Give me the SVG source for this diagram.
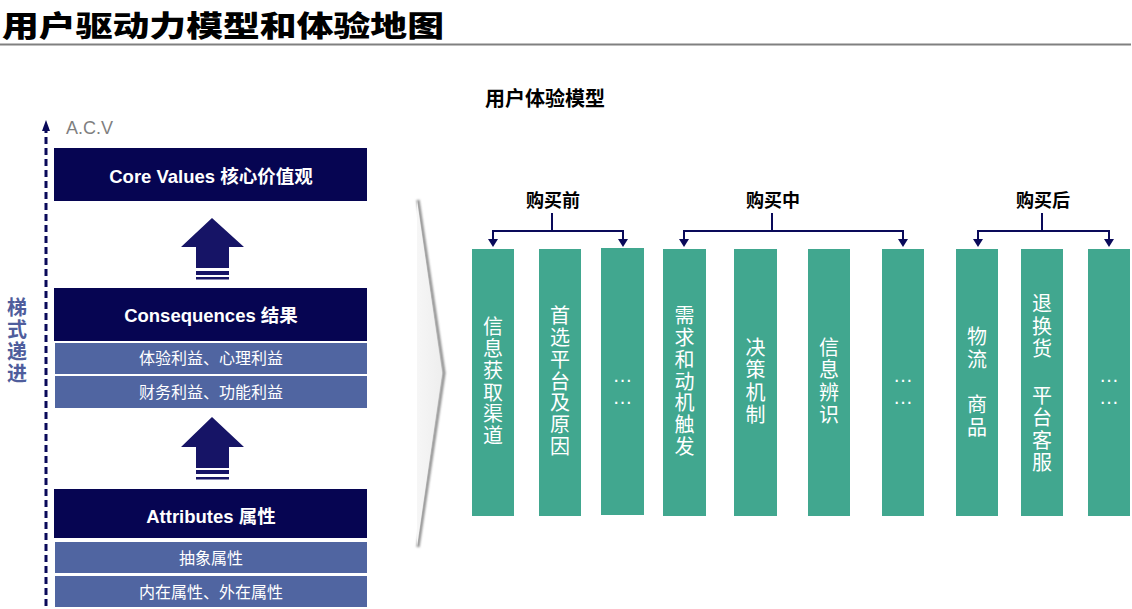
<svg xmlns="http://www.w3.org/2000/svg" width="1132" height="609" viewBox="0 0 1132 609">
<style>
.cjk{font-family:"Liberation Sans","Noto Sans CJK SC",sans-serif}
.title{font-weight:900;font-size:29px;fill:#000}
.hd{font-weight:bold;font-size:18px;fill:#000;text-anchor:middle}
.bt{font-weight:bold;font-size:18.5px;fill:#fff;text-anchor:middle}
.st{font-size:16px;fill:#fff;text-anchor:middle}
.vt{font-size:20px;fill:#fff;text-anchor:middle;dominant-baseline:central}
.dots{font-size:20px;fill:#fff;text-anchor:middle}
.main{fill:#060552}
.sub{fill:#5065a1}
.bar{fill:#41a78f}
.arr{fill:#161466}
.br{fill:none;stroke:#0a0a5a;stroke-width:2}
</style>
<defs>
<filter id="blur" x="-50%" y="-10%" width="200%" height="120%"><feGaussianBlur stdDeviation="1.2"/></filter>
<linearGradient id="chev" x1="0" y1="0" x2="1" y2="0"><stop offset="0" stop-color="#f6f6f6"/><stop offset="1" stop-color="#eeeeee"/></linearGradient>
</defs>

<g id="title">
<text class="cjk title" x="2" y="37" textLength="442" lengthAdjust="spacingAndGlyphs">用户驱动力模型和体验地图</text>
<rect x="0" y="43.5" width="1131" height="2" fill="#808080"/>
</g>

<g id="ladder-axis">
<line x1="46" y1="606" x2="46" y2="130" stroke="#0a0a5a" stroke-width="3" stroke-dasharray="7 4"/>
<path d="M46,120 L50,131 L42,131 Z" fill="#0a0a5a"/>
<text class="cjk" x="66" y="134" font-size="18" fill="#7f7f7f">A.C.V</text>
<text class="cjk" font-size="20" font-weight="bold" fill="#4f5d9c" text-anchor="middle" dominant-baseline="central">
<tspan x="17" y="308">梯</tspan><tspan x="17" y="330">式</tspan><tspan x="17" y="352">递</tspan><tspan x="17" y="374">进</tspan>
</text>
</g>

<g id="core-values">
<rect class="main" x="54" y="148" width="313" height="53"/>
<text class="cjk bt" x="211" y="183">Core Values 核心价值观</text>
</g>
<g id="arrow-1">
<path class="arr" d="M212,218 L244,247 L229,247 L229,268 L196,268 L196,247 L181,247 Z"/>
<rect class="arr" x="196" y="271" width="33" height="4"/>
<rect class="arr" x="196" y="277" width="33" height="2.5"/>
</g>
<g id="consequences">
<rect class="main" x="54" y="288" width="313" height="53"/>
<text class="cjk bt" x="211" y="322">Consequences 结果</text>
<rect class="sub" x="55" y="343" width="312" height="31"/>
<text class="cjk st" x="211" y="364">体验利益、心理利益</text>
<rect class="sub" x="55" y="376" width="312" height="32"/>
<text class="cjk st" x="211" y="398">财务利益、功能利益</text>
</g>
<g id="arrow-2">
<path class="arr" d="M212,417 L244,447 L229,447 L229,468 L196,468 L196,447 L181,447 Z"/>
<rect class="arr" x="196" y="470" width="33" height="4"/>
<rect class="arr" x="196" y="477" width="33" height="2.5"/>
</g>
<g id="attributes">
<rect class="main" x="54" y="489" width="313" height="49"/>
<text class="cjk bt" x="211" y="523">Attributes 属性</text>
<rect class="sub" x="55" y="542" width="312" height="31"/>
<text class="cjk st" x="211" y="564">抽象属性</text>
<rect class="sub" x="55" y="576" width="312" height="31"/>
<text class="cjk st" x="211" y="598">内在属性、外在属性</text>
</g>

<g id="chevron">
<polyline points="418,200 444,373 418,547" fill="none" stroke="#8a8a8a" stroke-width="3" filter="url(#blur)"/>
<polygon points="417,200 442,373 417,547" fill="url(#chev)"/>
</g>

<g id="model-title">
<text class="cjk" x="545" y="106" font-size="20" font-weight="bold" text-anchor="middle">用户体验模型</text>
</g>
<g id="stage-labels">
<text class="cjk hd" x="553" y="207">购买前</text>
<text class="cjk hd" x="773" y="207">购买中</text>
<text class="cjk hd" x="1043" y="207">购买后</text>
</g>

<g id="connectors">
<path class="br" d="M552,213 V231"/>
<path class="br" d="M493,240 V231 H623 V240"/>
<path d="M488,239 L498,239 L493,247 Z" fill="#0a0a5a"/>
<path d="M618,239 L628,239 L623,247 Z" fill="#0a0a5a"/>
<path class="br" d="M772,213 V231"/>
<path class="br" d="M684,240 V231 H903 V240"/>
<path d="M679,239 L689,239 L684,247 Z" fill="#0a0a5a"/>
<path d="M898,239 L908,239 L903,247 Z" fill="#0a0a5a"/>
<path class="br" d="M1042,213 V231"/>
<path class="br" d="M978,240 V231 H1109 V240"/>
<path d="M973,239 L983,239 L978,247 Z" fill="#0a0a5a"/>
<path d="M1104,239 L1114,239 L1109,247 Z" fill="#0a0a5a"/>
</g>

<g id="bar-1"><rect class="bar" x="472" y="249" width="42" height="267"/>
<text class="cjk vt"><tspan x="493" y="327">信</tspan><tspan x="493" y="349">息</tspan><tspan x="493" y="371">获</tspan><tspan x="493" y="393">取</tspan><tspan x="493" y="414">渠</tspan><tspan x="493" y="436">道</tspan></text></g>
<g id="bar-2"><rect class="bar" x="539" y="249" width="42" height="267"/>
<text class="cjk vt"><tspan x="560" y="316">首</tspan><tspan x="560" y="338">选</tspan><tspan x="560" y="360">平</tspan><tspan x="560" y="382">台</tspan><tspan x="560" y="403">及</tspan><tspan x="560" y="425">原</tspan><tspan x="560" y="447">因</tspan></text></g>
<g id="bar-3"><rect class="bar" x="601" y="248" width="43" height="267"/>
<text class="cjk dots"><tspan x="622.5" y="382">…</tspan><tspan x="622.5" y="404">…</tspan></text></g>
<g id="bar-4"><rect class="bar" x="663" y="249" width="43" height="267"/>
<text class="cjk vt"><tspan x="684.5" y="316">需</tspan><tspan x="684.5" y="338">求</tspan><tspan x="684.5" y="360">和</tspan><tspan x="684.5" y="382">动</tspan><tspan x="684.5" y="403">机</tspan><tspan x="684.5" y="425">触</tspan><tspan x="684.5" y="447">发</tspan></text></g>
<g id="bar-5"><rect class="bar" x="734" y="249" width="43" height="267"/>
<text class="cjk vt"><tspan x="755.5" y="348">决</tspan><tspan x="755.5" y="370">策</tspan><tspan x="755.5" y="393">机</tspan><tspan x="755.5" y="415">制</tspan></text></g>
<g id="bar-6"><rect class="bar" x="808" y="249" width="42" height="267"/>
<text class="cjk vt"><tspan x="829" y="348">信</tspan><tspan x="829" y="370">息</tspan><tspan x="829" y="393">辨</tspan><tspan x="829" y="415">识</tspan></text></g>
<g id="bar-7"><rect class="bar" x="882" y="249" width="42" height="267"/>
<text class="cjk dots"><tspan x="903" y="382">…</tspan><tspan x="903" y="404">…</tspan></text></g>
<g id="bar-8"><rect class="bar" x="956" y="249" width="42" height="267"/>
<text class="cjk vt"><tspan x="977" y="337">物</tspan><tspan x="977" y="360">流</tspan><tspan x="977" y="405">商</tspan><tspan x="977" y="428">品</tspan></text></g>
<g id="bar-9"><rect class="bar" x="1021" y="249" width="42" height="267"/>
<text class="cjk vt"><tspan x="1042" y="304">退</tspan><tspan x="1042" y="327">换</tspan><tspan x="1042" y="349">货</tspan><tspan x="1042" y="396">平</tspan><tspan x="1042" y="418">台</tspan><tspan x="1042" y="441">客</tspan><tspan x="1042" y="463">服</tspan></text></g>
<g id="bar-10"><rect class="bar" x="1088" y="249" width="42" height="267"/>
<text class="cjk dots"><tspan x="1109" y="382">…</tspan><tspan x="1109" y="404">…</tspan></text></g>
</svg>
